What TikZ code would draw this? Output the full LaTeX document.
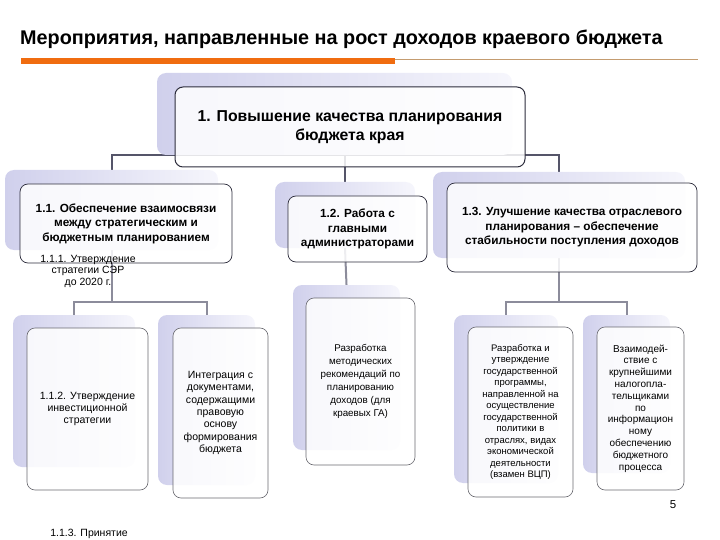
\documentclass[tikz,border=0pt]{standalone}
\usepackage{fontspec}
\setmainfont{Liberation Sans}
\usetikzlibrary{positioning,backgrounds}
\definecolor{barorange}{RGB}{240,108,16}
\definecolor{bartan}{RGB}{196,156,112}
\definecolor{tintlo}{RGB}{208,208,236}
\definecolor{tinthi}{RGB}{246,246,252}
\definecolor{edgedark}{RGB}{45,45,60}
\definecolor{edgegray}{RGB}{105,105,112}
\definecolor{linkdark}{RGB}{85,85,105}
\definecolor{linklight}{RGB}{140,140,155}
\tikzset{
  tintbox/.style={rectangle,draw=none,rounded corners=9pt,left color=tintlo,right color=tinthi,minimum width=#1},
  topbox/.style={rectangle,draw=edgedark,line width=1pt,rounded corners=8pt,fill=white,fill opacity=0.85,text opacity=1,align=center,font=\fontsize{15.8}{18.5}\selectfont\bfseries},
  midbox/.style={rectangle,draw=edgedark,line width=0.7pt,rounded corners=8pt,fill=white,fill opacity=0.85,text opacity=1,align=center,font=\fontsize{11.8}{14.5}\selectfont\bfseries},
  lowbox/.style={rectangle,draw=edgegray,line width=0.6pt,rounded corners=8pt,fill=white,fill opacity=0.85,text opacity=1,align=center,font=\fontsize{10.5}{12.4}\selectfont},
  note/.style={align=center,inner sep=0pt,font=\fontsize{10.5}{11.5}\selectfont},
  link/.style={draw=linkdark,line width=2pt},
  sublink/.style={draw=linklight,line width=2pt}
}

\begin{document}
\begin{tikzpicture}[x=1pt,y=-1pt]
  \useasboundingbox (0,0) rectangle (720,540);

  % heading
  \node[anchor=base west,inner sep=0pt,font=\fontsize{19.8}{23}\selectfont\bfseries] (title) at (20,45) {Мероприятия, направленные на рост доходов краевого бюджета};
  \draw[draw=bartan,line width=1.5pt] (395,59.5) -- (698,59.5);
  \draw[draw=barorange,line width=6pt] (21,61) -- (395,61);

  % level 1
  \node[tintbox=355pt,minimum height=82pt] (s1) at (334.5,114) {};
  \node[topbox,minimum width=350pt,minimum height=80pt] (b1) at (350,127) {1. Повышение качества планирования\\бюджета края};

  % level 2
  \node[tintbox=213pt,minimum height=80pt] (s11) at (111.5,210) {};
  \node[midbox,minimum width=212pt,minimum height=79pt] (b11) at (126,223.5) {1.1. Обеспечение взаимосвязи\\между стратегическим и\\бюджетным планированием};
  \node[tintbox=140pt,minimum height=66pt] (s12) at (345,215) {};
  \node[midbox,minimum width=139pt,minimum height=66pt] (b12) at (357.5,229) {1.2. Работа с\\главными\\администраторами};
  \node[tintbox=252pt,minimum height=86pt] (s13) at (559,215) {};
  \node[midbox,minimum width=250pt,minimum height=89pt] (b13) at (572,227.5) {1.3. Улучшение качества отраслевого\\планирования – обеспечение\\стабильности поступления доходов};

  \node[note] (n111) at (88,271) {1.1.1. Утверждение\\стратегии СЭР\\до 2020 г.};

  % level 3
  \node[tintbox=122pt,minimum height=152pt] (s111) at (74,391) {};
  \node[lowbox,minimum width=121pt,minimum height=162pt] (b111) at (87.5,409) {1.1.2. Утверждение\\инвестиционной\\стратегии};
  \node[tintbox=97pt,minimum height=170pt] (sint) at (206.5,400) {};
  \node[lowbox,minimum width=95pt,minimum height=170pt] (bint) at (220.5,413) {Интеграция с\\документами,\\содержащими\\правовую\\основу\\формирования\\бюджета};
  \node[tintbox=107pt,minimum height=165pt] (s121) at (346.5,367.5) {};
  \node[lowbox,minimum width=109pt,minimum height=167pt,font=\fontsize{9.8}{13}\selectfont] (b121) at (360.5,381.5) {Разработка\\методических\\рекомендаций по\\планированию\\доходов (для\\краевых ГА)};
  \node[tintbox=104pt,minimum height=168pt] (s131) at (506,399) {};
  \node[lowbox,minimum width=105pt,minimum height=170pt,font=\fontsize{9.5}{11.5}\selectfont] (b131) at (520.5,412) {Разработка и\\утверждение\\государственной\\программы,\\направленной на\\осуществление\\государственной\\политики в\\отраслях, видах\\экономической\\деятельности\\(взамен ВЦП)};
  \node[tintbox=87pt,minimum height=158pt] (s132) at (626.5,394) {};
  \node[lowbox,minimum width=87pt,minimum height=163pt,font=\fontsize{10}{11.8}\selectfont] (b132) at (640.5,408.5) {Взаимодей-\\ствие с\\крупнейшими\\налогопла-\\тельщиками\\по\\информацион\\ному\\обеспечению\\бюджетного\\процесса};

  \node[anchor=base,inner sep=0pt,font=\fontsize{11.5}{13}\selectfont] (page) at (673,508) {5};
  \node[anchor=base,inner sep=0pt,font=\fontsize{10.5}{12}\selectfont] (n113) at (89,536) {1.1.3. Принятие};

  % connectors
  \begin{scope}[on background layer]
    \draw[link] (s11.north) |- (s1.south) -| (s13.north);
    \draw[link] (s1.south -| s12.north) -- (s12.north);
    \path (s11.south) ++(0,52) coordinate (j11);
    \draw[sublink] (s11.south) -- (j11);
    \draw[sublink] (s111.north) |- (j11) -| (sint.north);
    \draw[sublink] (s12.south) -- (s121.north);
    \path (s13.south) ++(0,44) coordinate (j13);
    \draw[sublink] (s13.south) -- (j13);
    \draw[sublink] (s131.north) |- (j13) -| (s132.north);
  \end{scope}
\end{tikzpicture}
\end{document}
